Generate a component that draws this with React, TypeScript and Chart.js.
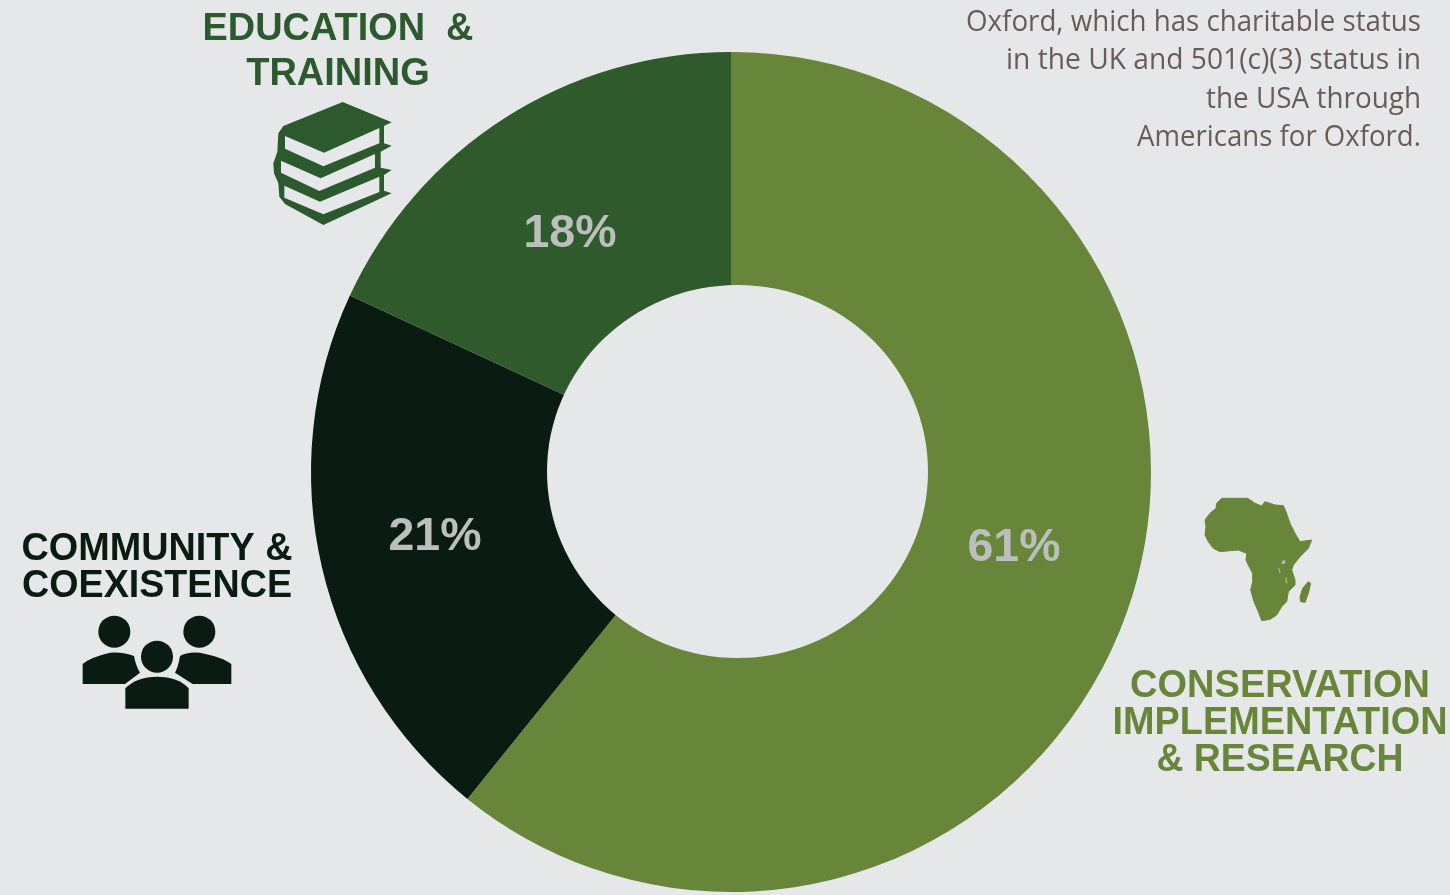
import React, { useEffect, useRef } from "react";
import { Chart, registerables } from "chart.js";

Chart.register(...registerables);

const categories = ["Conservation Implementation & Research", "Community & Coexistence", "Education & Training"];
const shares = [60.8, 21.1, 18.1];
const sliceColors = ["#68863A", "#0A1C12", "#2F5A2C"];
const percentLabelCenters = [[1014, 548], [435, 537.5], [570, 234.5]];

const BG = "#E6E7E9";
const heading = '"Liberation Sans", Arial, sans-serif';

type Label = { lines: string[]; x: number; ys: number[]; color: string; size: number; widths: number[] };
const labels: Label[] = [
  { lines: ["EDUCATION  &", "TRAINING"], x: 338, ys: [40, 85], color: "#2C5A2E", size: 38, widths: [271, 185] },
  { lines: ["COMMUNITY &", "COEXISTENCE"], x: 157, ys: [560, 597], color: "#0A1C12", size: 38, widths: [271, 270] },
  { lines: ["CONSERVATION", "IMPLEMENTATION", "& RESEARCH"], x: 1280, ys: [697, 734, 771], color: "#68863A", size: 38, widths: [301, 335, 247] },
];
const noteLines = ["Oxford, which has charitable status", "in the UK and 501(c)(3) status in", "the USA through", "Americans for Oxford."];
const noteBaselines = [31, 69, 108, 146];
const noteWidths = [455, 415, 215, 284];

const poly = (ctx: CanvasRenderingContext2D, pts: number[][]) => {
  ctx.beginPath();
  pts.forEach(([x, y], i) => (i ? ctx.lineTo(x, y) : ctx.moveTo(x, y)));
  ctx.closePath();
  ctx.fill();
};

const bookShape = [[280,378],[458,306],[605,367],[582,378],[582,430],[605,437],[572,455],[572,503],[605,510],[582,525],[582,572],[605,580],[400,675],[285,612],[268,590],[265,550],[252,520],[250,490],[262,455],[265,400]];
const bookPages = [
  [[285,408],[402,458],[568,384],[568,430],[400,499],[285,446]],
  [[273,482],[392,535],[555,462],[555,503],[388,573],[273,518]],
  [[283,557],[390,605],[568,530],[568,576],[400,643],[283,593]],
];
const africa = [[125,40],[203,40],[225,55],[245,63],[255,50],[285,60],[310,62],[318,80],[330,115],[345,145],[360,170],[395,165],[385,190],[360,215],[340,240],[335,255],[345,285],[345,300],[325,320],[320,350],[305,365],[290,390],[270,403],[245,407],[235,380],[222,350],[212,315],[218,290],[218,265],[205,240],[198,225],[200,205],[175,195],[150,197],[120,200],[100,190],[85,170],[75,150],[78,125],[75,105],[90,85],[108,70],[110,55]];
const madagascar = [[385,290],[392,295],[385,325],[375,352],[362,350],[360,335],[368,310]];
const lakes = [
  [[306,228],[317,225],[314,236],[305,237]],
  [[294,248],[297,249],[302,265],[299,265]],
  [[316,277],[319,278],[322,295],[318,295]],
];

const overlay = {
  id: "overlay",
  afterDraw(chart: Chart) {
    const ctx = chart.ctx;
    ctx.save();
    // donut hole, slightly off-centre in the reference
    const arc = chart.getDatasetMeta(0).data[0] as any;
    ctx.fillStyle = BG;
    ctx.beginPath();
    ctx.ellipse(arc.x + 6.5, arc.y - 0.5, 190.5, 186.5, 0, 0, Math.PI * 2);
    ctx.fill();

    ctx.textAlign = "center";
    ctx.textBaseline = "middle";
    ctx.fillStyle = "#BDBEBE";
    ctx.font = `bold 46.5px ${heading}`;
    shares.forEach((v, i) => ctx.fillText(`${Math.round(v)}%`, percentLabelCenters[i][0], percentLabelCenters[i][1]));

    ctx.textBaseline = "alphabetic";
    labels.forEach((l) => {
      ctx.fillStyle = l.color;
      ctx.font = `bold ${l.size}px ${heading}`;
      l.lines.forEach((t, i) => ctx.fillText(t, l.x, l.ys[i], l.widths[i]));
    });

    ctx.textAlign = "right";
    ctx.fillStyle = "#6A5B57";
    ctx.font = '28.3px "Open Sans", sans-serif';
    noteLines.forEach((t, i) => ctx.fillText(t, 1421, noteBaselines[i], noteWidths[i]));
    ctx.restore();

    // books
    ctx.save();
    ctx.translate(190, 0);
    ctx.scale(1 / 3, 1 / 3);
    ctx.fillStyle = "#2C5A2E";
    poly(ctx, bookShape);
    ctx.fillStyle = BG;
    bookPages.forEach((p) => poly(ctx, p));
    ctx.restore();

    // people
    ctx.save();
    ctx.translate(10, 520);
    ctx.scale(1 / 3, 1 / 3);
    ctx.fillStyle = "#0A1C12";
    [[313, 335], [568, 335], [441, 410]].forEach(([x, y]) => {
      ctx.beginPath();
      ctx.arc(x, y, 48, 0, Math.PI * 2);
      ctx.fill();
    });
    const body = (d: string) => ctx.fill(new Path2D(d));
    body("M218 492 L218 432 Q240 412 300 398 Q340 395 372 408 Q378 440 390 458 L345 492 Z");
    body("M664 492 L664 432 Q640 412 570 398 Q530 395 510 408 Q505 440 495 458 L548 492 Z");
    body("M346 566 L346 505 Q380 470 441 470 Q505 470 536 505 L536 566 Z");
    ctx.restore();

    // Africa
    ctx.save();
    ctx.translate(1180, 485);
    ctx.scale(1 / 3, 1 / 3);
    ctx.fillStyle = "#68863A";
    ctx.strokeStyle = "#68863A";
    ctx.lineWidth = 3;
    ctx.lineJoin = "round";
    poly(ctx, africa);
    ctx.stroke();
    poly(ctx, madagascar);
    ctx.stroke();
    ctx.fillStyle = "#B8C5A2";
    lakes.forEach((p) => poly(ctx, p));
    ctx.restore();
  },
};

export default function App() {
  const ref = useRef<HTMLCanvasElement>(null);
  useEffect(() => {
    document.body.style.margin = "0";
    document.body.style.background = BG;
    const chart = new Chart(ref.current!, {
      type: "doughnut",
      data: {
        labels: categories,
        datasets: [{ data: shares, backgroundColor: sliceColors, borderWidth: 0 }],
      },
      options: {
        animation: false,
        responsive: false,
        devicePixelRatio: 1,
        cutout: "40%",
        layout: { padding: { left: 311, right: 299, top: 52, bottom: 3 } },
        plugins: { legend: { display: false }, tooltip: { enabled: false } },
      },
      plugins: [overlay],
    });
    return () => chart.destroy();
  }, []);
  return <canvas ref={ref} width={1450} height={895} style={{ display: "block", width: 1450, height: 895 }} />;
}
